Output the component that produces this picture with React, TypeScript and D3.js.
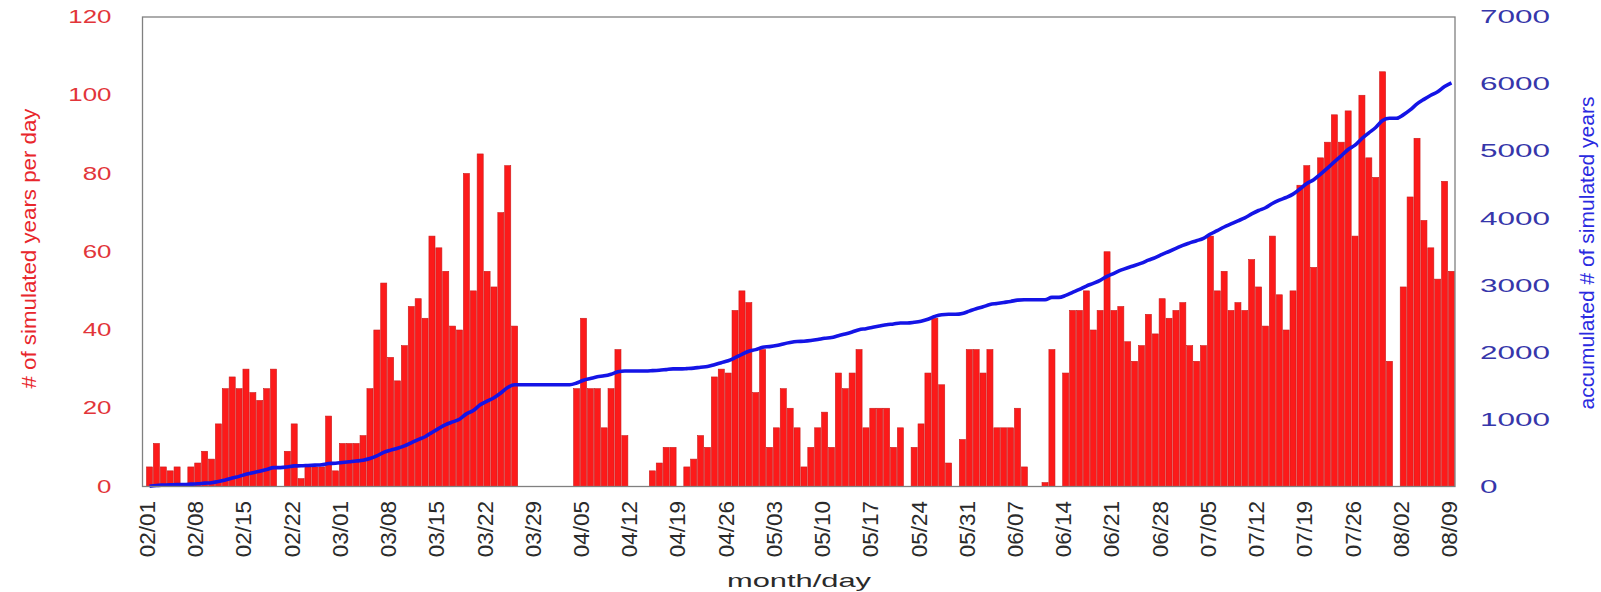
import * as d3 from "d3"
import React from "react"

// simulated years per day, 02/01 .. 08/09
const perDay = [
  5, 11, 5, 4, 5, 0, 5, 6, 9, 7, 16, 25, 28, 25, 30, 24, 22, 25, 30, 0,
  9, 16, 2, 5, 5, 5, 18, 4, 11, 11, 11, 13, 25, 40, 52, 33, 27, 36, 46, 48,
  43, 64, 61, 55, 41, 40, 80, 50, 85, 55, 51, 70, 82, 41, 0, 0, 0, 0, 0, 0,
  0, 0, 25, 43, 25, 25, 15, 25, 35, 13, 0, 0, 0, 4, 6, 10, 10, 0, 5, 7,
  13, 10, 28, 30, 29, 45, 50, 47, 24, 35, 10, 15, 25, 20, 15, 5, 10, 15, 19, 10,
  29, 25, 29, 35, 15, 20, 20, 20, 10, 15, 0, 10, 16, 29, 43, 26, 6, 0, 12, 35,
  35, 29, 35, 15, 15, 15, 20, 5, 0, 0, 1, 35, 0, 29, 45, 45, 50, 40, 45, 60,
  45, 46, 37, 32, 36, 44, 39, 48, 43, 45, 47, 36, 32, 36, 64, 50, 55, 45, 47, 45,
  58, 51, 41, 64, 49, 40, 50, 77, 82, 56, 84, 88, 95, 88, 96, 64, 100, 84, 79, 106,
  32, 0, 51, 74, 89, 68, 61, 53, 78, 55,
]

const days = d3.timeDay.range(new Date(2009, 1, 1), new Date(2009, 7, 10))
const fmt = d3.timeFormat("%m/%d")
const leftTicks = [0, 20, 40, 60, 80, 100, 120]
const rightTicks = [0, 1000, 2000, 3000, 4000, 5000, 6000, 7000]

const W = 1601
const H = 592
const frame = { left: 142.5, right: 1455, top: 17, bottom: 486.5 }
const font = "'Liberation Sans', Arial, sans-serif"

const App = () => {
  const accumulated = Array.from(d3.cumsum(perDay))

  const x = d3.scaleBand<number>()
    .domain(d3.range(days.length))
    .range([146.5, 1454.5])
    .paddingInner(0.12)
    .paddingOuter(0)
  const yLeft = d3.scaleLinear().domain([0, 120]).range([frame.bottom, frame.top])
  const yRight = d3.scaleLinear().domain([0, 7000]).range([frame.bottom, frame.top])
  const cx = (i: number) => (x(i) as number) + x.bandwidth() / 2

  const line = d3.line<number>()
    .x((d, i) => cx(i))
    .y(d => yRight(d))
    .curve(d3.curveMonotoneX)

  return (
    <div style={{ position: "absolute", left: 0, top: 0 }}>
      <svg width={W} height={H} style={{ display: "block", background: "#fff" }}>
        {/* bars */}
        <g>
          {perDay.map((v, i) => v > 0 && (
            <rect key={i}
              x={x(i)} y={yLeft(v)}
              width={x.bandwidth()} height={frame.bottom - yLeft(v)}
              fill="#fc1a1a" stroke="#cc1b1b" strokeWidth={0.6} />
          ))}
        </g>

        {/* accumulated line */}
        <path d={line(accumulated) || ""} fill="none" stroke="#1414e6"
          strokeWidth={3.6} strokeLinejoin="round" />

        {/* frame */}
        <rect x={frame.left} y={frame.top}
          width={frame.right - frame.left} height={frame.bottom - frame.top}
          fill="none" stroke="#808080" strokeWidth={1.3} />

        {/* left axis */}
        {leftTicks.map(t => (
          <text key={t} transform={`translate(111.5, ${yLeft(t)}) scale(1.4, 1)`}
            textAnchor="end" dominantBaseline="central"
            fontFamily={font} fontSize={18.5} fill="#e2353a">{t}</text>
        ))}
        <text transform="translate(28, 248.5) rotate(-90)"
          textAnchor="middle" dominantBaseline="central"
          fontFamily={font} fontSize={21} fill="#e8262c"
          textLength={280} lengthAdjust="spacingAndGlyphs">
          # of simulated years per day
        </text>

        {/* right axis */}
        {rightTicks.map(t => (
          <text key={t} transform={`translate(1480, ${yRight(t)}) scale(1.75, 1)`}
            textAnchor="start" dominantBaseline="central"
            fontFamily={font} fontSize={18} fill="#3636aa">{t}</text>
        ))}
        <text transform="translate(1587, 253) rotate(-90)"
          textAnchor="middle" dominantBaseline="central"
          fontFamily={font} fontSize={20} fill="#2a2ae0"
          textLength={313} lengthAdjust="spacingAndGlyphs">
          accumulated # of simulated years
        </text>

        {/* x axis labels, one per week */}
        {days.map((d, i) => i % 7 === 0 && (
          <text key={i}
            transform={`translate(${cx(i) - 2}, 501) rotate(-90)`}
            textAnchor="end" dominantBaseline="central"
            fontFamily={font} fontSize={22.5} fill="#2a2a2a">{fmt(d)}</text>
        ))}
        <text x={799} y={587} textAnchor="middle"
          fontFamily={font} fontSize={19} fill="#2a2a2a"
          textLength={144} lengthAdjust="spacingAndGlyphs">month/day</text>
      </svg>
    </div>
  )
}

export default App
